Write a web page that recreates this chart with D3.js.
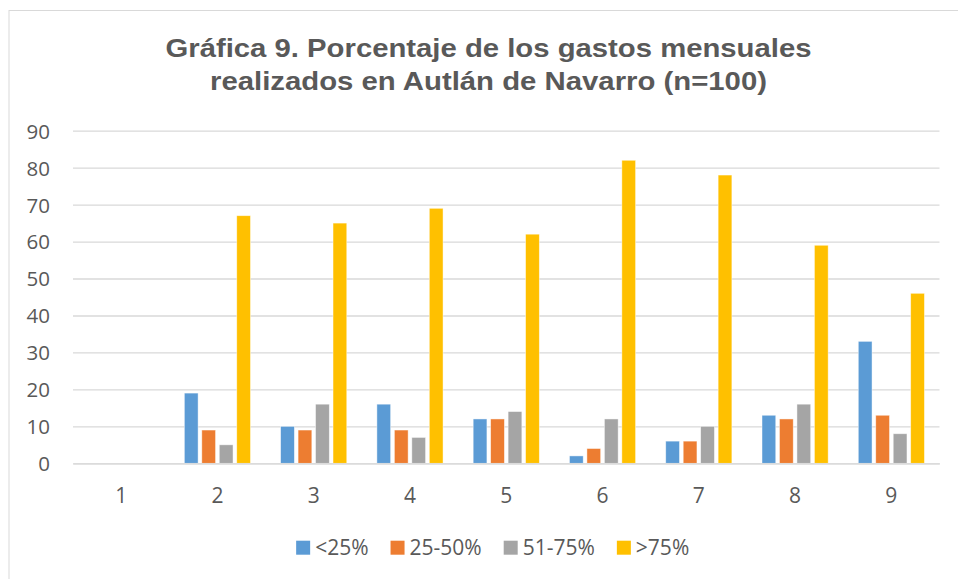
<!DOCTYPE html>
<html>
<head>
<meta charset="utf-8">
<script src="https://cdn.jsdelivr.net/npm/d3@7"></script>
<style>
  body { margin: 0; background: #fff; }
  svg { display: block; }
</style>
</head>
<body>
<div id="chart"></div>
<script>
const categories = ["1", "2", "3", "4", "5", "6", "7", "8", "9"];
const seriesNames = ["<25%", "25-50%", "51-75%", ">75%"];
const seriesColors = ["#5B9BD5", "#ED7D31", "#A5A5A5", "#FFC000"];
const under25 = [0, 19, 10, 16, 12, 2, 6, 13, 33];
const from25to50 = [0, 9, 9, 9, 12, 4, 6, 12, 13];
const from51to75 = [0, 5, 16, 7, 14, 12, 10, 16, 8];
const over75 = [0, 67, 65, 69, 62, 82, 78, 59, 46];
const yTicks = [0, 10, 20, 30, 40, 50, 60, 70, 80, 90];
const titleLines = [
    "Gráfica 9. Porcentaje de los gastos mensuales",
    "realizados en Autlán de Navarro (n=100)"
];

const seriesValues = [under25, from25to50, from51to75, over75];
const width = 958;
const height = 579;
const plot = { left: 73, right: 939.5, top: 130.7, bottom: 463.3 };
const textColor = "#595959";
const gridColor = "#d9d9d9";
const labelFont = "'Open Sans', 'Liberation Sans', sans-serif";

const svg = d3.select("#chart").append("svg")
    .attr("width", width)
    .attr("height", height);

// Chart area border (cropped on right and bottom)
svg.append("rect")
    .attr("x", 9)
    .attr("y", 10.5)
    .attr("width", 1000)
    .attr("height", 1000)
    .attr("fill", "#fff")
    .attr("stroke", gridColor)
    .attr("stroke-width", 1);

// Title
const titleWidths = [646, 557];
const titleBaselines = [57.3, 90];
svg.selectAll(".title")
    .data(titleLines)
    .enter()
    .append("text")
    .attr("x", 488.5)
    .attr("y", (d, i) => titleBaselines[i])
    .attr("text-anchor", "middle")
    .attr("textLength", (d, i) => titleWidths[i])
    .attr("lengthAdjust", "spacingAndGlyphs")
    .style("font-family", "'Liberation Sans', Arial, sans-serif")
    .style("font-size", "26px")
    .style("font-weight", "bold")
    .style("fill", textColor)
    .text(d => d);

// Scales
const x0 = d3.scaleBand()
    .domain(categories)
    .range([plot.left, plot.right])
    .padding(0);

// Excel defaults: gap width 219%, overlap -27%
const barW = x0.bandwidth() / (4 + 3 * 0.27 + 2.19);
const groupW = barW * (4 + 3 * 0.27);
const x1 = d3.scaleBand()
    .domain(seriesNames)
    .range([0, groupW])
    .paddingInner(0.27 / 1.27)
    .paddingOuter(0);

const y = d3.scaleLinear()
    .domain([0, 90])
    .range([plot.bottom, plot.top]);

// Gridlines + y labels
const yAxis = svg.append("g")
    .attr("transform", `translate(${plot.left},0)`)
    .call(d3.axisLeft(y)
        .tickValues(yTicks)
        .tickSize(-(plot.right - plot.left))
        .tickPadding(23));

yAxis.select(".domain").remove();
yAxis.selectAll(".tick line")
    .attr("stroke", gridColor)
    .attr("stroke-width", 1.3);
yAxis.selectAll(".tick text")
    .attr("dy", "0.36em")
    .style("font-family", labelFont)
    .style("font-size", "20.5px")
    .style("fill", textColor);

// Bars
const rows = categories.map((c, i) => ({
    cat: c,
    values: seriesNames.map((s, j) => ({ series: s, value: seriesValues[j][i], color: seriesColors[j] }))
}));

const groups = svg.selectAll(".group")
    .data(rows)
    .enter()
    .append("g")
    .attr("transform", d => `translate(${x0(d.cat) + (x0.bandwidth() - groupW) / 2},0)`);

groups.selectAll("rect")
    .data(d => d.values)
    .enter()
    .append("rect")
    .attr("x", d => x1(d.series))
    .attr("y", d => y(d.value))
    .attr("width", x1.bandwidth())
    .attr("height", d => y(0) - y(d.value))
    .attr("fill", d => d.color)
    .attr("stroke", "#fff")
    .attr("stroke-opacity", 0.6)
    .attr("stroke-width", 0.75);

// X axis
const xAxis = svg.append("g")
    .attr("transform", `translate(0,${plot.bottom})`)
    .call(d3.axisBottom(x0).tickSize(0).tickPadding(25));

xAxis.select(".domain")
    .attr("stroke", gridColor)
    .attr("stroke-width", 1.3);
xAxis.selectAll(".tick text")
    .style("font-family", labelFont)
    .style("font-size", "21px")
    .style("fill", textColor);

// Legend
const legend = svg.append("g");
const items = legend.selectAll(".item")
    .data(seriesNames)
    .enter()
    .append("g");

items.append("rect")
    .attr("width", 14)
    .attr("height", 14)
    .attr("y", 540.7)
    .attr("fill", (d, i) => seriesColors[i]);

items.append("text")
    .attr("x", 19)
    .attr("y", 555)
    .style("font-family", labelFont)
    .style("font-size", "21px")
    .style("fill", textColor)
    .text(d => d);

let offset = 0;
const positions = [];
items.each(function () {
    const w = d3.select(this).select("text").node().getComputedTextLength();
    positions.push(offset);
    offset += 19 + w + 22;
});
const legendW = offset - 22;
const legendStart = 492.7 - legendW / 2;
items.attr("transform", (d, i) => `translate(${legendStart + positions[i]},0)`);
</script>
</body>
</html>
